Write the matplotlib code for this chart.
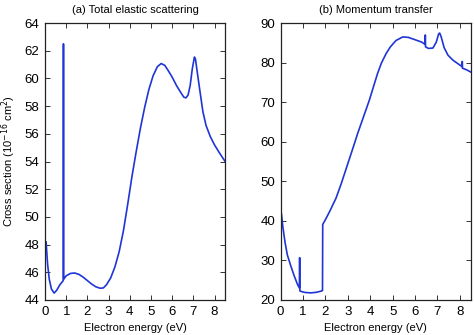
import numpy as np
import matplotlib
matplotlib.use("Agg")
import matplotlib.pyplot as plt

plt.rcParams['font.family'] = ['Liberation Sans', 'DejaVu Sans']

# (a) total elastic cross section, 1e-16 cm^2
energy_a = [0.05, 0.12, 0.2, 0.3, 0.43, 0.55, 0.7, 0.86, 0.87, 0.88,
            1.0, 1.2, 1.4, 1.6, 1.8, 2.0, 2.2, 2.4, 2.6, 2.75, 2.9, 3.1,
            3.3, 3.5, 3.7, 3.9, 4.1, 4.3, 4.5, 4.7, 4.9, 5.1, 5.3, 5.48,
            5.65, 5.8, 6.0, 6.2, 6.4, 6.55, 6.65, 6.75, 6.85, 6.95, 7.05,
            7.1, 7.18, 7.3, 7.45, 7.6, 7.8, 8.0, 8.2, 8.5]
sigma_a = [48.2, 46.6, 45.5, 44.8, 44.5, 44.7, 45.1, 45.4, 62.5, 45.5,
           45.75, 45.92, 45.95, 45.85, 45.65, 45.4, 45.15, 44.95, 44.85, 44.87, 45.1, 45.6,
           46.4, 47.5, 49.0, 50.9, 52.9, 54.7, 56.4, 57.9, 59.2, 60.2, 60.85, 61.08,
           60.95, 60.6, 60.1, 59.5, 59.0, 58.65, 58.6, 58.8, 59.5, 60.7, 61.55,
           61.4, 60.5, 59.2, 57.6, 56.6, 55.8, 55.2, 54.7, 54.0]

# (b) momentum transfer cross section, 1e-16 cm^2
energy_b = [0.04, 0.1, 0.2, 0.3, 0.45, 0.6, 0.75, 0.84, 0.85, 0.86,
            0.95, 1.1, 1.35, 1.6, 1.84, 1.87, 1.88, 2.0, 2.2, 2.47, 2.7,
            2.95, 3.2, 3.44, 3.7, 3.96, 4.15, 4.33, 4.5, 4.71, 4.9, 5.15,
            5.45, 5.7, 6.05, 6.3, 6.45, 6.46, 6.47, 6.6, 6.8, 6.95, 7.05,
            7.1, 7.17, 7.3, 7.47, 7.7, 8.0, 8.1, 8.11, 8.12, 8.3, 8.5]
sigma_b = [41.7, 38.5, 34.5, 31.4, 28.7, 26.2, 24.0, 23.0, 30.7, 22.3,
           22.1, 21.9, 21.8, 21.95, 22.3, 22.4, 39.1, 40.3, 42.5, 45.7, 49.3,
           53.6, 57.9, 62.1, 66.3, 70.5, 74.0, 77.3, 79.9, 82.3, 84.0, 85.6,
           86.5, 86.4, 85.7, 85.2, 84.6, 87.0, 84.0, 83.6, 83.7, 85.2, 87.2,
           87.5, 86.5, 83.8, 81.9, 80.6, 79.4, 79.0, 80.3, 78.6, 78.2, 77.6]

line_color = '#1f35d6'

fig = plt.figure(figsize=(4.74, 3.35), dpi=100)
ax_a = fig.add_axes([0.095, 0.1045, 0.38, 0.8265])
ax_b = fig.add_axes([0.592, 0.1045, 0.4017, 0.8265])

ax_a.plot(energy_a, sigma_a, color=line_color, lw=1.2)
ax_b.plot(energy_b, sigma_b, color=line_color, lw=1.2)

ax_a.set_ylim(44, 64)
ax_a.set_yticks(np.arange(44, 65, 2))
ax_b.set_ylim(20, 90)
ax_b.set_yticks(np.arange(20, 91, 10))

for ax, title in [(ax_a, '(a) Total elastic scattering'), (ax_b, '(b) Momentum transfer')]:
    ax.set_xlim(0, 8.5)
    ax.set_xticks(range(0, 9))
    ax.tick_params(direction='in', top=True, right=True, length=3.5, width=0.7,
                   labelsize=9.5, pad=4, color='#333333')
    for sp in ax.spines.values():
        sp.set_linewidth(0.9)
        sp.set_color('#222222')
    ax.set_xlabel('Electron energy (eV)', fontsize=8, labelpad=4)
    ax.set_title(title, fontsize=8, pad=7)

ax_a.set_ylabel('Cross section (10$^{-16}$ cm$^2$)', fontsize=8, labelpad=5)

fig.savefig('out.png', dpi=100)
